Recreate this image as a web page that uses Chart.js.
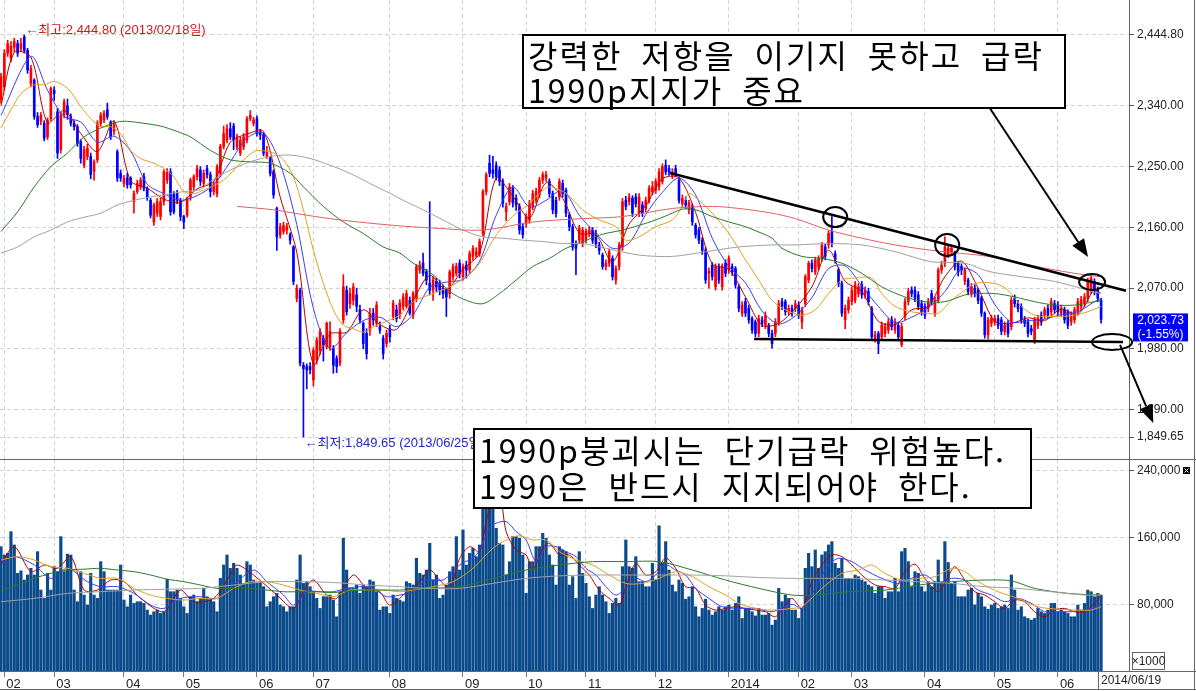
<!DOCTYPE html>
<html lang="ko">
<head>
<meta charset="UTF-8">
<title>일봉 차트 2013/02 - 2014/06</title>
<script src="https://cdn.jsdelivr.net/npm/chart.js"></script>
<style>
  body { margin: 0; background: #fff; }
  #wrap { position: relative; width: 1196px; height: 691px; overflow: hidden; background: #fff; }
  canvas { position: absolute; left: 0; }
  #priceChart { top: 0; }
  #volChart { top: 459px; }
  .note {
    position: absolute; box-sizing: border-box; border: 2px solid #000; background: #fff; color: #000;
    font-family: 'Noto Sans CJK KR', sans-serif; font-size: 32px; letter-spacing: 2px; word-spacing: 8px;
    white-space: nowrap; padding: 1px 0 0 4px;
  }
</style>
</head>
<body>
<div id="wrap">
  <canvas id="priceChart" width="1196" height="459"></canvas>
  <canvas id="volChart" width="1196" height="232"></canvas>
  <div class="note" style="left:522px;top:34px;width:544px;height:75px;line-height:35px">강력한 저항을 이기지 못하고 급락<br>1990p지지가 중요</div>
  <div class="note" style="left:473px;top:428px;width:559px;height:81px;line-height:36px">1990p붕괴시는 단기급락 위험높다.<br>1990은 반드시 지지되어야 한다.</div>
</div>
<script>
// daily candles
const cOpen = [
  2349,2368,2418,2410,2427,2432,2425,2442,2422,2373, 2378,2324,2317,2314,2294,2321,2363,2331,2275,2327,
  2340,2324,2314,2309,2287,2252,2265,2265,2243,2260, 2314,2319,2334,2316,2302,2272,2240,2225,2233,2233,
  2198,2213,2220,2235,2218,2200,2168,2181,2176,2198, 2230,2242,2210,2210,2200,2176,2178,2205,2220,2235,
  2245,2225,2247,2238,2213,2210,2240,2280,2289,2306, 2310,2279,2270,2279,2289,2321,2314,2321,2301,2297,
  2265,2262,2242,2188,2149,2154,2156,2149,2131,2055, 2067,1956,1954,1954,1934,1964,1978,1996,1983,1983,
  1981,1966,1959,2023,2067,2047,2052,2060,2038,2018, 2003,2008,2033,2018,2013,1996,1988,2010,2028,2038,
  2030,2043,2043,2052,2030,2055,2097,2107,2094,2077, 2067,2080,2077,2070,2067,2062,2087,2092,2107,2087,
  2104,2097,2117,2119,2121,2151,2213,2255,2245,2252, 2245,2228,2183,2198,2218,2203,2191,2161,2166,2171,
  2191,2200,2208,2230,2233,2228,2210,2200,2205,2225, 2215,2178,2161,2136,2141,2136,2141,2151,2156,2151,
  2134,2119,2102,2107,2114,2082,2102,2131,2200,2198, 2203,2205,2181,2193,2188,2200,2213,2215,2220,2228,
  2252,2247,2237,2247,2230,2195,2200,2186,2191,2163, 2156,2141,2126,2092,2104,2072,2102,2072,2107,2097,
  2102,2099,2072,2033,2050,2040,2025,2020,2003,2023, 2015,2015,2003,2003,2020,2050,2050,2035,2040,2040,
  2045,2020,2047,2082,2107,2094,2102,2114,2131,2134, 2154,2121,2097,2077,2023,2038,2050,2052,2062,2075,
  2060,2065,2040,1996,2003,1998,2003,2008,2023,2008, 2015,1986,2028,2050,2067,2067,2060,2047,2043,2040,
  2062,2033,2052,2097,2107,2119,2124,2121,2107,2102, 2080,2082,2062,2070,2067,2055,2033,2001,2018,2020,
  2025,2023,2006,2018,2013,2055,2047,2043,2023,2020, 2010,1993,2015,2030,2030,2040,2035,2047,2045,2033,
  2038,2035,2020,2023,2035,2043,2047,2055,2067,2080, 2067,2052
];
const cHigh = [
  2388,2423,2437,2435,2440,2437,2440,2444.8,2425,2400, 2380,2330,2330,2318,2322,2368,2368,2336,2330,2350,
  2350,2328,2318,2312,2290,2280,2283,2270,2260,2318, 2330,2333,2344,2318,2318,2275,2245,2237,2240,2235,
  2214,2230,2234,2240,2220,2203,2196,2203,2203,2245, 2247,2247,2213,2215,2203,2178,2205,2233,2238,2252,
  2250,2245,2252,2242,2228,2253,2283,2310,2312,2315, 2314,2298,2294,2299,2324,2333,2323,2325,2305,2300,
  2280,2265,2245,2190,2166,2168,2166,2152,2133,2075, 2070,1960,1958,1960,1982,1997,2010,2000,2020,2020,
  1985,1970,2010,2090,2073,2070,2077,2070,2045,2020, 2010,2040,2040,2050,2020,2000,2008,2015,2052,2045,
  2053,2062,2067,2057,2065,2105,2110,2122,2098,2198, 2087,2085,2082,2075,2070,2097,2106,2107,2112,2106,
  2110,2125,2133,2130,2143,2216,2241,2267,2265,2257, 2250,2232,2196,2225,2222,2208,2195,2165,2180,2200,
  2215,2218,2234,2242,2243,2232,2214,2205,2232,2230, 2218,2182,2165,2140,2163,2160,2158,2161,2160,2156,
  2138,2122,2112,2128,2118,2103,2138,2203,2206,2210, 2207,2210,2210,2198,2205,2222,2228,2232,2247,2254,
  2260,2252,2247,2252,2234,2208,2205,2200,2195,2166, 2160,2145,2130,2100,2108,2106,2106,2106,2112,2118,
  2106,2102,2075,2050,2055,2045,2028,2023,2030,2028, 2035,2018,2008,2025,2052,2055,2053,2045,2045,2052,
  2050,2042,2090,2110,2112,2116,2118,2138,2135,2155, 2176,2125,2100,2080,2045,2057,2072,2080,2077,2080,
  2072,2070,2043,2006,2006,2020,2018,2025,2028,2025, 2020,2018,2055,2070,2072,2072,2065,2052,2047,2055,
  2067,2057,2100,2110,2146,2135,2134,2125,2110,2106, 2100,2085,2077,2075,2070,2058,2035,2027,2030,2030,
  2030,2027,2020,2022,2056,2060,2052,2047,2028,2024, 2015,2027,2030,2035,2042,2045,2055,2052,2050,2045,
  2042,2038,2035,2042,2055,2058,2062,2085,2090,2084, 2072,2055
];
const cLow = [
  2344,2363,2413,2405,2420,2413,2420,2418,2388,2368, 2320,2308,2312,2288,2290,2318,2348,2262,2270,2322,
  2320,2310,2304,2280,2255,2248,2260,2232,2230,2256, 2310,2315,2320,2290,2297,2228,2228,2220,2218,2218,
  2181,2210,2216,2214,2200,2174,2163,2176,2171,2193, 2225,2178,2180,2195,2170,2158,2175,2200,2215,2230,
  2222,2220,2233,2205,2208,2205,2235,2276,2285,2290, 2275,2275,2266,2275,2285,2318,2310,2295,2290,2266,
  2262,2236,2203,2126,2144,2150,2150,2135,2075,2050, 1955,1849.65,1921,1943,1925,1958,1972,1962,1980,1978,
  1944,1945,1955,2018,2030,2040,2045,2035,2018,1980, 1965,2000,2015,2013,2003,1965,1983,1990,2023,2020,
  2025,2038,2040,2030,2025,2050,2092,2088,2075,2060, 2052,2065,2060,2055,2028,2055,2082,2088,2085,2082,
  2085,2092,2112,2115,2117,2147,2208,2235,2233,2230, 2222,2190,2170,2193,2190,2185,2150,2144,2160,2166,
  2186,2196,2204,2225,2228,2205,2180,2175,2200,2205, 2176,2155,2126,2090,2136,2131,2137,2146,2136,2130,
  2120,2098,2097,2102,2082,2076,2097,2126,2186,2193, 2176,2190,2176,2176,2183,2196,2208,2210,2215,2224,
  2238,2237,2232,2235,2196,2190,2188,2180,2163,2144, 2136,2120,2077,2070,2082,2067,2077,2067,2087,2092,
  2089,2070,2035,2028,2028,2018,2003,1998,1998,2013, 2010,1998,1981,1998,2015,2038,2030,2030,2028,2035,
  2025,2010,2043,2078,2094,2090,2097,2110,2112,2129, 2131,2107,2072,2028,2010,2033,2045,2048,2057,2055,
  2055,2045,1993,1990,1973,1993,1998,2003,2008,2003, 1993,1983,2023,2045,2057,2050,2038,2030,2025,2035,
  2045,2028,2048,2092,2102,2115,2119,2097,2088,2090, 2075,2060,2057,2057,2047,2028,1996,1995,2013,2015,
  2010,2001,2001,1998,2008,2042,2035,2018,2013,1998, 2001,1988,2010,2015,2025,2025,2030,2033,2030,2028,
  2018,2010,2015,2018,2030,2038,2043,2050,2062,2060, 2050,2018
];
const cClose = [
  2383,2418,2432,2428,2435,2418,2432,2422,2393,2395, 2324,2312,2326,2292,2319,2366,2358,2270,2326,2346,
  2327,2314,2309,2284,2262,2275,2277,2238,2257,2314, 2326,2329,2324,2294,2312,2233,2233,2233,2223,2223,
  2210,2225,2230,2218,2205,2178,2193,2198,2198,2242, 2242,2183,2183,2200,2176,2168,2203,2230,2235,2247,
  2228,2240,2238,2213,2223,2250,2280,2299,2306,2294, 2290,2294,2289,2294,2321,2326,2319,2299,2297,2270,
  2272,2240,2208,2146,2161,2163,2161,2141,2080,2070, 1959,1951,1949,1949,1978,1993,2006,1986,2018,2006,
  1956,1954,2006,2072,2035,2062,2072,2043,2023,1988, 1973,2033,2023,2045,2008,1973,2003,1998,2048,2025,
  2048,2057,2062,2033,2062,2102,2104,2092,2082,2067, 2082,2072,2067,2062,2057,2094,2102,2102,2092,2102,
  2097,2121,2129,2124,2139,2213,2238,2240,2240,2235, 2228,2196,2191,2220,2196,2193,2156,2149,2176,2196,
  2210,2213,2230,2238,2238,2210,2186,2181,2228,2210, 2181,2161,2131,2129,2159,2156,2154,2156,2141,2136,
  2126,2102,2107,2124,2087,2099,2134,2198,2191,2205, 2181,2195,2205,2181,2200,2218,2220,2228,2242,2250,
  2242,2242,2242,2240,2200,2203,2193,2196,2168,2149, 2141,2126,2082,2095,2087,2102,2082,2102,2092,2114,
  2094,2075,2040,2045,2033,2023,2008,2003,2025,2018, 2030,2003,1988,2020,2047,2043,2035,2040,2033,2047,
  2030,2038,2087,2107,2099,2112,2114,2134,2117,2151, 2136,2112,2077,2033,2040,2052,2067,2075,2072,2060,
  2067,2050,1998,2001,1988,2015,2013,2020,2013,2020, 1998,2013,2050,2065,2062,2055,2043,2035,2030,2050,
  2050,2052,2097,2104,2131,2129,2129,2102,2094,2097, 2097,2065,2072,2062,2052,2033,2001,2023,2025,2025,
  2015,2006,2015,2003,2052,2047,2040,2023,2018,2003, 2006,2023,2025,2020,2038,2030,2050,2038,2035,2040,
  2023,2015,2030,2038,2050,2053,2057,2080,2085,2065, 2055,2023.73
];
// volume, unit = 1000
const volume = [
  149,139,141,167,151,117,120,109,115,123, 115,143,97,87,117,97,125,119,161,119,
  140,139,97,83,119,91,79,117,91,87, 131,119,97,97,97,97,127,85,77,91,
  81,83,83,81,73,67,71,73,69,71, 110,95,95,97,87,77,69,89,91,83,
  87,99,89,87,83,71,111,127,139,123, 129,123,115,105,131,127,109,105,107,101,
  77,83,89,93,79,77,71,77,77,109, 139,105,107,101,95,87,75,89,89,91,
  85,65,95,159,121,99,99,103,93,103, 101,109,107,95,73,77,77,69,91,87,
  85,
  83,107,105,103,135,117,115,121,153,109, 115,87,91,103,119,125,161,121,169,127,
  141,147,137,151,207,195,203,195,171,153, 151,115,131,161,161,159,139,93,131,131,
  149,149,165,159,139,127,103,149,145,143, 103,113,87,143,117,105,89,75,91,101,
  91,83,69,81,87,81,125,157,125,123, 137,107,107,101,101,129,109,174,129,155,
  121,103,95,109,105,86,89,101,77,65, 75,86,73,67,71,77,73,77,79,73,
  81,89,63,75,75,71,66,75,67,67, 69,55,61,99,83,91,87,
  73,73,63,75,123,141,125,145,123,139, 143,151,155,129,123,135,111,111,111,115,
  113,109,107,103,101,93,101,101,87,95, 95,111,95,143,147,131,101,119,117,101,
  95,107,101,107,133,107,155,130,105,107, 89,89,89,97,99,79,93,89,77,74,
  79,81,75,77,79,75,115,97,73,77, 65,63,61,63,75,71,69,73,81,81,
  71,73,71,69,65,65,79,73,81,97, 95,89,93,91
];

// moving averages read at sample points: [day index, value]
const ma5 = [[0,2340],[4,2419],[9,2412],[14,2315],[19,2333],[24,2299],[29,2272],[34,2317],[39,2229],[44,2218],[49,2202],[54,2197],[59,2217],[64,2228],[69,2286],[74,2298],[79,2302],[84,2205],[89,2123],[94,1957],[99,2002],[104,2005],[109,2038],[114,2016],[119,2009],[124,2052],[129,2089],[134,2068],[139,2098],[144,2122],[149,2233],[154,2206],[159,2174],[164,2226],[169,2203],[174,2152],[179,2149],[184,2109],[189,2165],[194,2192],[199,2232],[204,2233],[209,2182],[214,2106],[219,2098],[224,2057],[229,2015],[234,2018],[239,2040],[244,2072],[249,2126],[254,2080],[259,2065],[264,2021],[269,2016],[274,2038],[279,2043],[284,2087],[289,2110],[294,2070],[299,2021],[304,2018],[309,2026],[314,2022],[319,2039],[324,2031],[329,2068],[331,2062]];
const ma10 = [[0,2326],[9,2413],[14,2363],[19,2324],[24,2316],[29,2286],[34,2295],[39,2273],[44,2224],[49,2210],[54,2200],[59,2207],[64,2223],[69,2257],[74,2292],[79,2300],[84,2254],[89,2164],[94,2040],[99,1980],[104,2004],[109,2022],[114,2027],[119,2013],[124,2031],[129,2071],[134,2079],[139,2083],[144,2110],[149,2178],[154,2220],[159,2190],[164,2200],[169,2215],[174,2178],[179,2151],[184,2129],[189,2137],[194,2179],[199,2212],[204,2233],[209,2208],[214,2144],[219,2102],[224,2078],[229,2036],[234,2017],[239,2029],[244,2056],[249,2099],[254,2103],[259,2073],[264,2043],[269,2019],[274,2027],[279,2041],[284,2065],[289,2099],[294,2090],[299,2046],[304,2020],[309,2022],[314,2024],[319,2031],[324,2035],[329,2050],[331,2055]];
const ma20 = [[0,2307],[3,2334],[6,2358],[10,2371],[13,2371],[16,2376],[20,2366],[24,2339],[27,2321],[30,2309],[33,2309],[36,2299],[39,2274],[42,2262],[46,2255],[49,2247],[52,2235],[55,2213],[58,2210],[60,2213],[67,2230],[72,2255],[76,2272],[78,2274],[82,2270],[85,2260],[88,2235],[91,2186],[94,2126],[97,2077],[100,2038],[103,2015],[106,2010],[109,2005],[113,2015],[120,2030],[124,2050],[130,2062],[135,2072],[140,2087],[144,2107],[148,2141],[151,2161],[155,2181],[158,2191],[162,2210],[165,2220],[170,2210],[175,2186],[180,2171],[185,2161],[188,2141],[192,2146],[197,2161],[202,2171],[205,2191],[207,2210],[210,2200],[214,2181],[219,2151],[224,2112],[228,2082],[232,2052],[236,2038],[241,2030],[245,2038],[249,2062],[253,2082],[257,2085],[262,2085],[265,2062],[269,2043],[274,2035],[278,2033],[282,2033],[286,2052],[290,2067],[293,2077],[299,2077],[303,2067],[307,2043],[311,2030],[315,2028],[319,2028],[323,2030],[327,2035],[331,2043]];
const ma60 = [[0,2154],[5,2183],[10,2220],[15,2250],[20,2270],[25,2294],[30,2307],[35,2316],[38,2317],[43,2314],[48,2310],[53,2302],[57,2294],[63,2274],[69,2260],[75,2257],[81,2255],[87,2240],[91,2220],[97,2191],[103,2168],[109,2151],[115,2131],[120,2122],[124,2107],[130,2090],[135,2065],[140,2052],[145,2047],[150,2062],[155,2082],[160,2102],[165,2114],[170,2129],[175,2138],[178,2145],[182,2151],[187,2156],[192,2163],[197,2171],[202,2181],[205,2187],[209,2186],[214,2176],[219,2168],[224,2161],[229,2151],[232,2144],[235,2129],[241,2117],[247,2114],[253,2107],[259,2092],[265,2072],[272,2057],[278,2050],[284,2050],[290,2060],[293,2062],[299,2062],[305,2057],[311,2050],[317,2045],[323,2045],[329,2050],[331,2052]];
const ma120 = [[0,2122],[5,2131],[10,2146],[15,2156],[20,2168],[25,2175],[30,2181],[35,2193],[40,2200],[45,2205],[50,2209],[55,2213],[60,2216],[63,2228],[69,2245],[75,2257],[81,2265],[87,2267],[93,2262],[99,2252],[105,2240],[111,2225],[118,2208],[121,2200],[127,2186],[133,2171],[139,2156],[145,2146],[151,2144],[157,2141],[163,2139],[169,2136],[175,2136],[182,2129],[192,2119],[202,2117],[212,2124],[222,2131],[232,2134],[239,2134],[249,2136],[259,2134],[269,2124],[280,2109],[290,2107],[297,2095],[307,2087],[317,2080],[327,2067],[331,2062]];
const ma240 = [[71,2191],[82,2186],[92,2178],[102,2171],[118,2163],[130,2159],[145,2156],[160,2168],[175,2173],[187,2176],[202,2188],[214,2191],[222,2188],[232,2181],[239,2173],[249,2156],[259,2144],[269,2134],[280,2126],[290,2121],[297,2117],[307,2107],[317,2097],[327,2089],[331,2087]];

const vma5 = [[0,128],[4,149],[9,119],[13,127],[17,123],[21,137],[25,97],[29,97],[33,109],[37,107],[42,87],[49,71],[54,97],[58,83],[64,87],[69,115],[71,127],[76,115],[83,91],[88,75],[91,95],[94,109],[98,91],[101,87],[106,115],[110,99],[114,95],[117,79],[121,91],[126,107],[129,121],[132,109],[135,99],[138,135],[141,149],[144,143],[146,179],[148,207],[150,215],[152,167],[155,145],[158,139],[160,121],[163,147],[165,153],[168,139],[171,139],[174,127],[177,115],[180,97],[183,87],[186,79],[188,101],[191,129],[194,115],[197,119],[200,135],[203,123],[206,101],[209,99],[212,79],[215,73],[218,75],[221,77],[224,75],[227,73],[230,71],[233,65],[236,79],[238,87],[241,75],[244,107],[247,127],[250,139],[253,137],[256,127],[259,115],[263,103],[266,101],[269,99],[272,119],[275,128],[278,111],[282,95],[285,113],[287,125],[290,109],[293,95],[296,91],[299,83],[302,75],[305,85],[308,83],[311,71],[314,65],[317,73],[320,75],[323,71],[326,71],[329,81],[331,91]];
const vma10 = [[0,128],[4,137],[10,127],[15,111],[20,123],[26,107],[30,101],[35,101],[40,93],[45,79],[49,75],[54,87],[60,89],[65,87],[70,103],[76,121],[80,107],[85,91],[88,79],[92,95],[96,95],[100,95],[104,99],[108,101],[112,99],[116,89],[120,91],[124,95],[128,109],[133,109],[138,127],[143,139],[147,171],[149,177],[152,179],[155,167],[158,157],[161,131],[164,149],[167,149],[170,143],[173,137],[176,123],[179,115],[182,101],[185,91],[188,99],[191,111],[194,107],[197,115],[200,127],[203,121],[206,115],[209,99],[213,87],[217,77],[222,75],[227,75],[232,71],[238,80],[241,75],[245,99],[249,127],[252,135],[256,131],[260,121],[265,111],[270,105],[274,111],[278,115],[282,105],[286,111],[290,109],[294,97],[298,91],[302,83],[306,87],[310,81],[314,71],[318,71],[322,71],[326,73],[330,77],[331,83]];
const vma20 = [[0,133],[5,137],[10,133],[15,125],[20,123],[25,117],[30,111],[35,111],[40,99],[45,91],[50,87],[55,85],[60,87],[65,87],[70,99],[75,107],[80,107],[85,103],[90,97],[95,93],[100,89],[105,97],[110,97],[115,97],[120,95],[124,97],[130,101],[136,107],[142,123],[148,147],[153,159],[156,162],[160,157],[164,157],[168,143],[173,133],[178,127],[183,115],[188,105],[193,105],[198,111],[203,119],[208,113],[213,101],[218,91],[222,81],[227,75],[232,73],[238,75],[241,77],[247,99],[253,117],[258,121],[262,127],[266,117],[271,109],[276,111],[281,113],[286,123],[290,119],[294,107],[300,95],[306,87],[312,77],[318,74],[324,73],[328,73],[331,77]];
const vma60 = [[0,97],[5,103],[10,111],[15,117],[20,121],[25,122],[30,123],[35,121],[40,119],[45,115],[50,110],[55,107],[60,103],[65,99],[70,99],[75,99],[80,97],[85,95],[90,95],[95,95],[100,94],[105,96],[110,97],[115,97],[120,97],[128,99],[138,101],[148,111],[158,121],[168,127],[178,131],[188,131],[198,131],[208,121],[218,109],[228,99],[238,91],[245,91],[255,95],[266,97],[276,103],[286,107],[296,109],[304,108],[311,99],[321,93],[331,91]];
const vma120 = [[0,83],[10,87],[20,93],[30,95],[40,97],[50,98],[60,99],[70,103],[80,107],[90,107],[100,106],[110,103],[120,101],[128,99],[138,99],[148,105],[158,111],[168,114],[178,115],[188,115],[198,115],[208,115],[218,114],[228,112],[238,111],[245,111],[255,111],[266,109],[276,107],[286,105],[296,101],[306,99],[316,95],[326,91],[331,91]];

const monthTicks  = [1, 16, 37, 55, 77, 94, 117, 139, 158, 176, 197, 219, 240, 256, 278, 299, 318];
const monthLabels = ['02','03','04','05','06','07','08','09','10','11','12','2014','02','03','04','05','06'];
const priceTicks = [2444.80, 2340, 2250, 2160, 2070, 1980, 1890, 1849.65];
const volTicks = [80, 160, 240];
const lastDate = '2014/06/19';
const lastChange = -1.55;
const highDate = '2013/02/18';
const lowDate = '2013/06/25';

// hand-drawn marks: [day, price, day, price]  /  [day, price, rx, ry]
const trendLines = [[201.3, 2240.5, 338.5, 2066.2], [226.6, 1994.7, 337.6, 1990.3]];
const rings = [[251, 2175.3, 12, 10], [284.7, 2133.9, 12, 11], [328.3, 2079.1, 13, 8], [334.3, 1990.3, 20, 8]];
const arrows = [[296.7, 2342.6, 327.1, 2116.1], [336.7, 1986, 346.7, 1870.4]];

const UP = '#ff0000', DOWN = '#0000ff';
const COL = { ma5: '#b00000', ma10: '#3c3cf0', ma20: '#e0a020', ma60: '#2a7a2a', ma120: '#a0a0a0', ma240: '#e06060' };
const GRID = '#d2d2d2', AXIS = '#666';
const LABEL_FONT = "12px 'Liberation Sans Narrow', 'Liberation Sans', 'Noto Sans CJK KR', sans-serif";

Chart.defaults.font.family = "'Liberation Sans Narrow', 'Liberation Sans', 'Noto Sans CJK KR', sans-serif";
Chart.defaults.font.size = 12;
Chart.defaults.color = '#222';
Chart.defaults.animation = false;
Chart.defaults.events = [];
Chart.defaults.plugins.legend.display = false;
Chart.defaults.plugins.tooltip.enabled = false;

const fmt2 = v => v.toLocaleString('en-US', { minimumFractionDigits: 2, maximumFractionDigits: 2 });
const days = cClose.map((_, i) => i);
const candleColor = days.map(i => cClose[i] >= cOpen[i] ? UP : DOWN);
const pts = arr => arr.map(([x, y]) => ({ x, y }));
const maLine = (arr, color, yAxisID) => ({
  type: 'line', data: pts(arr), borderColor: color, borderWidth: 1, pointRadius: 0,
  tension: 0.3, yAxisID, order: 1
});
// keep the plot area flush with the canvas edges
const noPad = s => { s.paddingTop = 0; s.paddingBottom = 0; s.paddingLeft = 0; s.paddingRight = 0; };

const xCommon = {
  type: 'linear', min: -0.3, max: 339.4, offset: false,
  afterBuildTicks: s => { s.ticks = monthTicks.map(v => ({ value: v })); },
  grid: { color: GRID, offset: false, tickColor: '#777', tickLength: 6 },
  border: { dash: [4, 3], color: AXIS }
};
const yCommon = {
  position: 'right',
  afterFit: s => { s.width = 67; noPad(s); },
  grid: { color: GRID, tickColor: '#555', tickLength: 5 },
  border: { dash: [4, 3], color: AXIS, display: true },
  ticks: { padding: 3 }
};

function drawArrow(ctx, x1, y1, x2, y2) {
  const a = Math.atan2(y2 - y1, x2 - x1), len = 18, hw = 7;
  const bx = x2 - len * Math.cos(a), by = y2 - len * Math.sin(a);
  ctx.beginPath(); ctx.moveTo(x1, y1); ctx.lineTo(bx, by); ctx.stroke();
  ctx.beginPath();
  ctx.moveTo(x2, y2);
  ctx.lineTo(bx + hw * Math.sin(a), by - hw * Math.cos(a));
  ctx.lineTo(bx - hw * Math.sin(a), by + hw * Math.cos(a));
  ctx.closePath(); ctx.fill();
}

const priceMarks = {
  id: 'priceMarks',
  afterDraw(chart) {
    const { ctx, scales: { x, y } } = chart;
    const px = v => x.getPixelForValue(v), py = v => y.getPixelForValue(v);
    ctx.save();
    ctx.strokeStyle = AXIS; ctx.lineWidth = 1;
    ctx.beginPath(); ctx.moveTo(1194.5, 0); ctx.lineTo(1194.5, chart.height); ctx.stroke();

    // high / low notes
    let hi = 0, lo = 0;
    cHigh.forEach((v, i) => { if (v > cHigh[hi]) hi = i; });
    cLow.forEach((v, i) => { if (v < cLow[lo]) lo = i; });
    ctx.font = "13px 'Liberation Sans Narrow', 'Liberation Sans', 'Noto Sans CJK KR'";
    ctx.textAlign = 'left'; ctx.textBaseline = 'middle';
    ctx.fillStyle = '#d01818';
    ctx.fillText('←최고:' + fmt2(cHigh[hi]) + ' (' + highDate + '일)', px(hi) + 1, py(cHigh[hi]) - 5);
    ctx.fillStyle = '#2424c8';
    ctx.fillText('←최저:' + fmt2(cLow[lo]) + ' (' + lowDate + '일)', px(lo) + 1, py(cLow[lo]) + 6);

    // last price box
    const last = cClose[cClose.length - 1], ly = py(last);
    ctx.font = LABEL_FONT;
    ctx.fillStyle = '#0000ff';
    ctx.fillRect(1133, ly - 6, 55, 28);
    ctx.fillStyle = '#fff'; ctx.textAlign = 'center';
    ctx.fillText(fmt2(last), 1160.5, ly + 1);
    ctx.fillText('(' + lastChange.toFixed(2) + '%)', 1160.5, ly + 15);

    // trend lines, rings, arrows
    ctx.strokeStyle = '#000'; ctx.fillStyle = '#000'; ctx.lineWidth = 2.5;
    trendLines.forEach(([i1, v1, i2, v2]) => {
      ctx.beginPath(); ctx.moveTo(px(i1), py(v1)); ctx.lineTo(px(i2), py(v2)); ctx.stroke();
    });
    ctx.lineWidth = 2;
    rings.forEach(([i, v, rx, ry]) => {
      ctx.beginPath(); ctx.ellipse(px(i), py(v), rx, ry, 0, 0, Math.PI * 2); ctx.stroke();
    });
    arrows.forEach(([i1, v1, i2, v2]) => drawArrow(ctx, px(i1), py(v1), px(i2), py(v2)));
    ctx.restore();
  }
};

const volFrame = {
  id: 'volFrame',
  afterDraw(chart) {
    const { ctx, chartArea: a } = chart;
    ctx.save();
    ctx.strokeStyle = AXIS; ctx.lineWidth = 1;
    ctx.beginPath();
    ctx.moveTo(0, 0.5); ctx.lineTo(1196, 0.5);
    ctx.moveTo(0, a.bottom + 0.5); ctx.lineTo(1196, a.bottom + 0.5);
    ctx.moveTo(0, 230.5); ctx.lineTo(1196, 230.5);
    ctx.moveTo(1194.5, 0); ctx.lineTo(1194.5, 231);
    ctx.moveTo(1098.5, a.bottom); ctx.lineTo(1098.5, 230.5);
    ctx.stroke();
    ctx.font = LABEL_FONT;
    ctx.fillStyle = '#222'; ctx.textBaseline = 'middle';
    ctx.textAlign = 'left';
    ctx.fillText(lastDate, 1101, a.bottom + 10);
    ctx.strokeRect(1132.5, a.bottom - 18.5, 32, 17);
    ctx.textAlign = 'center';
    ctx.fillText('×1000', 1148.5, a.bottom - 9.5);
    ctx.fillStyle = '#000';
    ctx.fillRect(1183, 8, 7, 7);
    ctx.strokeStyle = '#fff';
    ctx.beginPath(); ctx.moveTo(1184.5, 9.5); ctx.lineTo(1188.5, 13.5); ctx.moveTo(1188.5, 9.5); ctx.lineTo(1184.5, 13.5); ctx.stroke();
    ctx.restore();
  }
};

new Chart(document.getElementById('priceChart'), {
  type: 'bar',
  data: {
    datasets: [
      { type: 'bar', data: days.map(i => ({ x: i, y: [cLow[i], cHigh[i]] })), backgroundColor: candleColor,
        barThickness: 1, grouped: false, order: 3 },
      { type: 'bar', data: days.map(i => ({ x: i, y: [cOpen[i], cClose[i]] })), backgroundColor: candleColor,
        barThickness: 2, grouped: false, minBarLength: 1, order: 2 },
      maLine(ma240, COL.ma240, 'y'),
      maLine(ma120, COL.ma120, 'y'),
      maLine(ma60, COL.ma60, 'y'),
      maLine(ma20, COL.ma20, 'y'),
      maLine(ma10, COL.ma10, 'y'),
      maLine(ma5, COL.ma5, 'y')
    ]
  },
  options: {
    responsive: false,
    layout: { padding: 0 },
    scales: {
      x: { ...xCommon, ticks: { display: false }, grid: { ...xCommon.grid, drawTicks: false },
           border: { dash: [4, 3], display: false }, afterFit: s => { s.height = 0; noPad(s); } },
      y: { ...yCommon, min: 1817.1, max: 2496.6,
           afterBuildTicks: s => { s.ticks = priceTicks.map(v => ({ value: v })); },
           ticks: { ...yCommon.ticks, callback: v => fmt2(v) } }
    }
  },
  plugins: [priceMarks]
});

new Chart(document.getElementById('volChart'), {
  type: 'bar',
  data: {
    datasets: [
      { type: 'bar', data: days.map(i => ({ x: i, y: volume[i] })), backgroundColor: '#0b4a8b',
        barThickness: 2.5, grouped: false, order: 2 },
      maLine(vma120, COL.ma120, 'y'),
      maLine(vma60, COL.ma60, 'y'),
      maLine(vma20, COL.ma20, 'y'),
      maLine(vma10, COL.ma10, 'y'),
      maLine(vma5, COL.ma5, 'y')
    ]
  },
  options: {
    responsive: false,
    layout: { padding: 0 },
    scales: {
      x: { ...xCommon, afterFit: s => { s.height = 20; noPad(s); },
           ticks: { align: 'start', padding: 0, labelOffset: 2, autoSkip: false, maxRotation: 0, minRotation: 0,
                    font: { size: 13 }, callback: (v, i) => monthLabels[i] } },
      y: { ...yCommon, min: 0, max: 254,
           afterBuildTicks: s => { s.ticks = volTicks.map(v => ({ value: v })); },
           ticks: { ...yCommon.ticks, callback: v => (v * 1000).toLocaleString('en-US') } }
    }
  },
  plugins: [volFrame]
});
</script>
</body>
</html>
